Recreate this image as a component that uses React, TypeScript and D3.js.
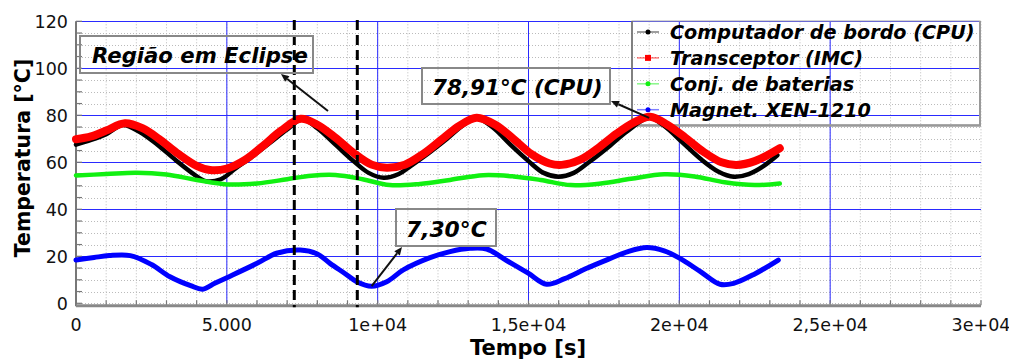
import * as d3 from "d3";

const width = 1009;
const height = 360;

// series: [time s, temperature °C]
const cpu: [number, number][] = [
  [0, 67.5], [500, 69.5], [1000, 72], [1558, 75.9], [2100, 73], [2700, 67.5], [3300, 61],
  [3900, 55], [4300, 52], [4800, 52.8], [5300, 57.5], [5800, 62], [6400, 68], [7000, 74],
  [7500, 78.3], [8000, 74.5], [8600, 67.5], [9200, 60.5], [9700, 55.5], [10200, 53.4],
  [10700, 55], [11100, 58.5], [11700, 64], [12300, 70], [12800, 75.5], [13250, 79],
  [13800, 75], [14400, 67.5], [15000, 60.5], [15500, 55.5], [16000, 53.9], [16500, 55.5],
  [17000, 60], [17600, 66], [18300, 73.5], [19000, 78.91], [19500, 75.5], [20100, 68.5],
  [20700, 61.5], [21300, 56], [21800, 53.9], [22300, 55], [22800, 58.5], [23250, 63],
];
const imc: [number, number][] = [
  [0, 69.8], [500, 71], [1000, 73.5], [1624, 76.6], [2200, 74.5], [2800, 69.5], [3400, 63.5],
  [4000, 58.5], [4442, 56.7], [5000, 57.3], [5600, 61], [6200, 67], [6800, 73.5], [7450, 78.5],
  [8000, 76], [8600, 70.5], [9200, 64], [9800, 59], [10300, 57.7], [10900, 59], [11500, 63.5],
  [12100, 69.5], [12700, 75.5], [13280, 79], [13900, 76], [14500, 70], [15100, 63.5],
  [15700, 59.5], [16100, 58.9], [16700, 61], [17300, 66], [17900, 72], [18500, 77],
  [19030, 79.4], [19600, 76], [20200, 70.5], [20800, 64.5], [21400, 60], [21900, 58.9],
  [22500, 60.5], [23330, 66],
];
const bateria: [number, number][] = [
  [0, 54.4], [1000, 55], [2000, 55.6], [3000, 54.8], [4000, 52.5], [5000, 50.6], [6000, 51],
  [7000, 52.8], [7800, 54.3], [8600, 54.6], [9500, 52.8], [10400, 50.3], [11400, 50.8],
  [12400, 52.5], [13500, 54.5], [14500, 54], [15400, 52.5], [16400, 50.3], [17400, 51],
  [18400, 53], [19500, 54.9], [20500, 54], [21500, 51.5], [22500, 50.3], [23330, 51],
];
const magnet: [number, number][] = [
  [0, 18.4], [600, 19.5], [1100, 20.3], [1800, 20.3], [2500, 16.5], [3116, 11.3], [3800, 7.5],
  [4200, 6], [4600, 8.5], [5000, 10.9], [6000, 17], [6650, 21.3], [7430, 22.7], [8000, 21],
  [8420, 17], [8900, 12.8], [9305, 9.2], [9800, 7.3], [10300, 9.2], [10850, 14.2],
  [11735, 19.4], [12400, 22], [13060, 23.4], [13615, 23.1], [14300, 18], [14990, 12.8],
  [15600, 8.1], [16200, 10.5], [16930, 14.9], [17600, 18.5], [18300, 22], [18920, 23.7],
  [19500, 22.3], [20020, 19.1], [20700, 13.5], [21350, 8.1], [21800, 8.5], [22500, 12.5],
  [23280, 18.4],
];

const seriesNames = ["Computador de bordo (CPU)", "Transceptor (IMC)", "Conj. de baterias", "Magnet. XEN-1210"];
const seriesColors = ["#000000", "#ff0000", "#11f011", "#0000ff"];
const seriesWidths = [4.5, 8, 4.5, 5];

const xTicks = [0, 5000, 10000, 15000, 20000, 25000, 30000];
const xTickLabels = ["0", "5.000", "1e+04", "1,5e+04", "2e+04", "2,5e+04", "3e+04"];
const yTicks = [0, 20, 40, 60, 80, 100, 120];
const eclipseTimes = [7236, 9325];

export default function App() {
  const x = d3.scaleLinear().domain([0, 30000]).range([76, 981]);
  const y = d3.scaleLinear().domain([0, 120]).range([303.3, 21.3]);
  const line = d3
    .line<[number, number]>()
    .x((d) => x(d[0]))
    .y((d) => y(d[1]))
    .curve(d3.curveCatmullRom.alpha(0.5));

  const minorX = d3.range(0, 30001, 1000);
  const minorY = d3.range(0, 121, 5);
  const all = [cpu, imc, bateria, magnet];
  const bold = { fontFamily: "DejaVu Sans", fontWeight: "bold" as const };
  const boldIt = { ...bold, fontStyle: "italic" as const };

  // arrow: line from tail to head with filled head
  function arrow(x1: number, y1: number, x2: number, y2: number, key: string) {
    const a = Math.atan2(y2 - y1, x2 - x1);
    const L = 8, w = 3.5;
    const bx = x2 - L * Math.cos(a), by = y2 - L * Math.sin(a);
    const p = [
      [x2, y2],
      [bx + w * Math.sin(a), by - w * Math.cos(a)],
      [bx - w * Math.sin(a), by + w * Math.cos(a)],
    ];
    return (
      <g key={key}>
        <line x1={x1} y1={y1} x2={bx} y2={by} stroke="#111" strokeWidth={2} />
        <polygon points={p.map((q) => q.join(",")).join(" ")} fill="#111" />
      </g>
    );
  }

  return (
    <svg width={width} height={height} style={{ position: "absolute", left: 0, top: 0, background: "#fff" }}>
      {/* minor grid */}
      <g stroke="#bbbbbb" strokeWidth={1} strokeDasharray="1,2">
        {minorX.map((t) => (
          <line key={"mx" + t} x1={x(t)} x2={x(t)} y1={y(120)} y2={y(0)} />
        ))}
        {minorY.map((v) => (
          <line key={"my" + v} x1={x(0)} x2={x(30000)} y1={Math.round(y(v)) + 0.5} y2={Math.round(y(v)) + 0.5} />
        ))}
      </g>
      {/* major grid */}
      <g stroke="#2a2aff" strokeWidth={1}>
        {xTicks.slice(1, -1).map((t) => (
          <line key={"gx" + t} x1={x(t)} x2={x(t)} y1={y(120)} y2={y(0)} />
        ))}
        {yTicks.slice(1).map((v) => (
          <line key={"gy" + v} x1={x(0)} x2={x(30000)} y1={Math.round(y(v)) + 0.5} y2={Math.round(y(v)) + 0.5} />
        ))}
      </g>
      {/* axes */}
      <g stroke="#777" strokeWidth={1.2}>
        {minorX.map((t) => (
          <line key={"tx" + t} x1={x(t)} x2={x(t)} y1={y(0) - 3} y2={y(0) + 2} />
        ))}
        {minorY.map((v) => (
          <line key={"ty" + v} x1={x(0)} x2={x(0) + 6} y1={y(v)} y2={y(v)} />
        ))}
      </g>
      <line x1={x(0)} x2={x(0)} y1={y(120)} y2={y(0) + 3} stroke="#777" strokeWidth={2} />
      <line x1={x(0)} x2={x(30000)} y1={y(0) + 2.5} y2={y(0) + 2.5} stroke="#888" strokeWidth={3} />

      <g fontFamily="DejaVu Sans" fontSize={17.5} fill="#111">
        {xTicks.map((t, i) => (
          <text key={"lx" + t} x={x(t)} y={331} textAnchor="middle">
            {xTickLabels[i]}
          </text>
        ))}
        {yTicks.map((v) => (
          <text key={"ly" + v} x={68} y={y(v)} dy="0.36em" textAnchor="end">
            {v}
          </text>
        ))}
      </g>
      <text x={528} y={355} textAnchor="middle" fontSize={21} {...bold}>
        Tempo [s]
      </text>
      <text transform="translate(30,158) rotate(-90)" textAnchor="middle" fontSize={20.5} {...bold}>
        Temperatura [°C]
      </text>

      {/* legend */}
      <g>
        <rect x={632} y={21} width={348} height={104} fill="none" stroke="#aaa" strokeWidth={1} />
        <line x1={632} x2={632} y1={21} y2={125} stroke="#666" strokeWidth={1.5} />
        <line x1={980} x2={980} y1={21} y2={126} stroke="#999" strokeWidth={2} />
        <line x1={632} x2={981} y1={125.5} y2={125.5} stroke="#999" strokeWidth={2.5} />
        {seriesNames.map((n, i) => {
          const by = 39 + i * 25.9;
          const c = seriesColors[i];
          return (
            <g key={n}>
              <line x1={637} x2={659} y1={by - 7} y2={by - 7} stroke={c} strokeOpacity={0.5} strokeWidth={1.5} />
              {i === 1 ? (
                <rect x={645} y={by - 10} width={6} height={6} fill={c} />
              ) : (
                <circle cx={648} cy={by - 7} r={2.5} fill={c} />
              )}
              <text x={670} y={by} fontSize={19.2} {...boldIt} fill="#000">
                {n}
              </text>
            </g>
          );
        })}
      </g>

      {/* series */}
      {all.map((s, i) => (
        <path
          key={"s" + i}
          d={line(s) || ""}
          fill="none"
          stroke={seriesColors[i]}
          strokeWidth={seriesWidths[i]}
          strokeLinejoin="round"
          strokeLinecap="round"
        />
      ))}

      {/* eclipse lines */}
      {eclipseTimes.map((t) => (
        <line key={"e" + t} x1={x(t)} x2={x(t)} y1={20} y2={y(0) + 4} stroke="#000" strokeWidth={3} strokeDasharray="10,5" />
      ))}

      {/* annotations */}
      <rect x={80} y={36} width={233} height={37} fill="none" stroke="#888" strokeWidth={2} />
      <text x={92} y={63} fontSize={21.2} {...boldIt}>
        Região em Eclipse
      </text>
      {arrow(328, 111, 281, 74, "a1")}

      <rect x={422} y={68} width={188} height={36} fill="none" stroke="#888" strokeWidth={2} />
      <text x={432} y={95} fontSize={21.5} {...boldIt}>
        78,91°C (CPU)
      </text>
      {arrow(x(19000), y(78.91), 611, 101, "a2")}

      <rect x={396} y={209} width={100} height={37} fill="none" stroke="#888" strokeWidth={2} />
      <text x={406} y={237} fontSize={21.8} {...boldIt}>
        7,30°C
      </text>
      {arrow(x(9800), y(7.3), 402, 247, "a3")}
    </svg>
  );
}
